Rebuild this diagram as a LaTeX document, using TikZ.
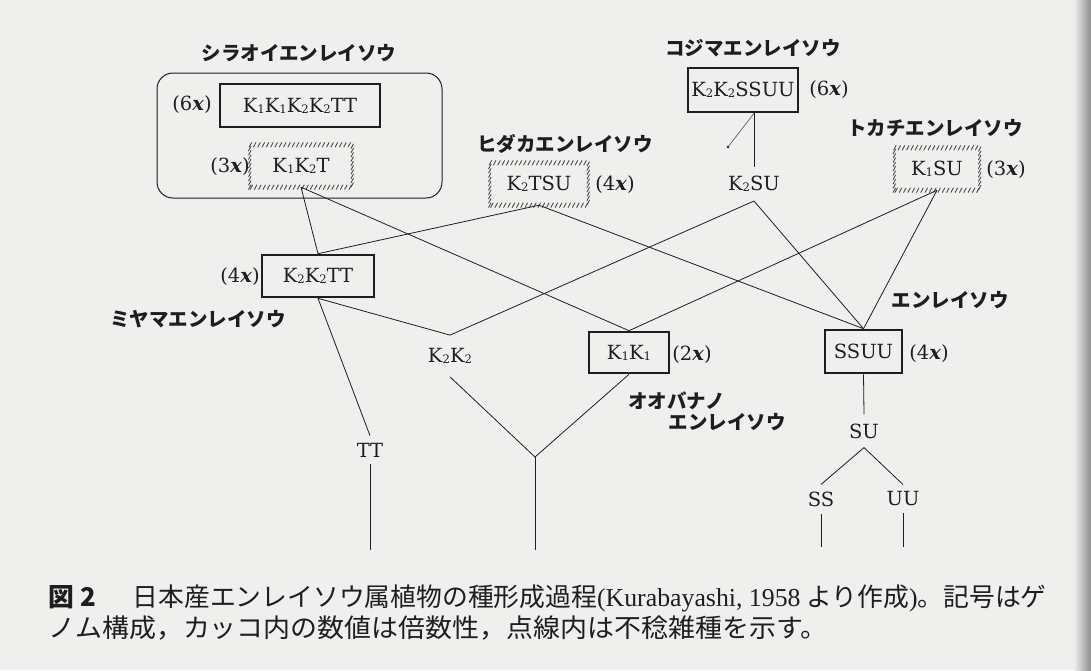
\documentclass[tikz,border=0pt]{standalone}
\usepackage{fontspec}
\usepackage{graphicx}
\setmainfont{DejaVu Serif}
\newfontfamily\jp{Noto Sans CJK JP}
\newfontfamily\capserif{Liberation Serif}
\usetikzlibrary{decorations.markings,calc}
\definecolor{bg}{RGB}{239,239,237}
\definecolor{ink}{RGB}{30,30,30}
\definecolor{hatchc}{RGB}{70,70,70}
\newcommand\gs[1]{\raisebox{-0.06em}{\scalebox{0.6}{#1}}}
\newcommand\px[1]{(#1\textit{\textbf{x}})}
\tikzset{
  gen/.style={font=\fontsize{19.5}{21}\selectfont, text=ink, inner xsep=3pt},
  solidbox/.style={gen, draw=ink, line width=2.6pt},
  hatchedbox/.style={gen},
  hatchframe/.style={decorate, decoration={markings, mark=between positions 0 and 1 step 4.3pt with {\pgftransformresetnontranslations\draw[hatchc, line width=0.85pt] (-1.3pt,-2.4pt) -- (1.3pt,2.4pt);}}},
  ploidy/.style={gen, inner sep=0pt},
  jpname/.style={font=\jp\bfseries\fontsize{19.5}{24}\selectfont, text=ink, inner sep=0pt},
  link/.style={draw=ink, line width=0.8pt},
  groupbox/.style={draw=ink, line width=1pt, rounded corners=16pt},
  caption/.style={font=\jp\fontsize{25.8}{30}\selectfont, text=ink, inner sep=0pt, anchor=base west},
}
\begin{document}
\begin{tikzpicture}[x=1pt,y=-1pt]
\fill[bg] (0,0) rectangle (1091,670);
\useasboundingbox (0,0) rectangle (1091,670);
\shade[left color=bg, right color=black!45] (1074,0) rectangle (1091,670);

% group box
\node[groupbox, minimum width=285pt, minimum height=125pt] (grp) at (299.5,135.5) {};

% genome boxes
\node[solidbox, minimum width=160pt, minimum height=43pt] (hexa) at (300,105.5) {K\gs1K\gs1K\gs2K\gs2TT};
\node[hatchedbox, minimum width=102pt, minimum height=42pt] (tri) at (301,166) {K\gs1K\gs2T};
\node[solidbox, minimum width=110pt, minimum height=44pt] (k2k2ssuu) at (743,90) {K\gs2K\gs2SSUU};
\node[hatchedbox, minimum width=98pt, minimum height=42pt] (k2tsu) at (539,184) {K\gs2TSU};
\node[hatchedbox, minimum width=85pt, minimum height=42pt] (k1su) at (937,169) {K\gs1SU};
\node[solidbox, minimum width=112pt, minimum height=42pt] (k2k2tt) at (318,276) {K\gs2K\gs2TT};
\node[solidbox, minimum width=80pt, minimum height=41pt] (k1k1) at (629,352.5) {K\gs1K\gs1};
\node[solidbox, minimum width=77pt, minimum height=43pt] (ssuu) at (863.5,351.5) {SSUU};

\path[hatchframe] (tri.south west) rectangle (tri.north east);
\path[hatchframe] (k2tsu.south west) rectangle (k2tsu.north east);
\path[hatchframe] (k1su.south west) rectangle (k1su.north east);

% plain genome labels
\node[gen, inner ysep=9pt] (k2su) at (754,184) {K\gs2SU};
\node[gen, inner ysep=13pt] (k2k2) at (450,356) {K\gs2K\gs2};
\node[gen, inner ysep=7pt] (tt) at (370,450) {TT};
\node[gen, inner ysep=9pt] (su) at (864,431) {SU};
\node[gen, inner ysep=7pt] (ss) at (821,499) {SS};
\node[gen, inner ysep=7pt] (uu) at (903,499) {UU};

% ploidy labels
\node[ploidy] (p-hexa) at (192,105) {\px6};
\node[ploidy] (p-tri) at (230,167) {\px3};
\node[ploidy] (p-k2k2ssuu) at (829,90) {\px6};
\node[ploidy] (p-k2tsu) at (615,185) {\px4};
\node[ploidy] (p-k1su) at (1006,170) {\px3};
\node[ploidy] (p-k2k2tt) at (240,277) {\px4};
\node[ploidy] (p-k1k1) at (692,355) {\px2};
\node[ploidy] (p-ssuu) at (929,354) {\px4};

% species names
\node[jpname] (n-shiraoi) at (299,53) {シラオイエンレイソウ};
\node[jpname] (n-kojima) at (753,48) {コジマエンレイソウ};
\node[jpname] (n-hidaka) at (565,144) {ヒダカエンレイソウ};
\node[jpname] (n-tokachi) at (935,128) {トカチエンレイソウ};
\node[jpname] (n-miyama) at (198,319) {ミヤマエンレイソウ};
\node[jpname] (n-enrei) at (950,300) {エンレイソウ};
\node[jpname, align=left, font=\jp\bfseries\fontsize{19.5}{21}\selectfont] (n-oobana) at (707,411) {オオバナノ\\\hspace*{2.1em}エンレイソウ};

% free ends
\coordinate (yj) at (535,457);
\coordinate (ttend) at (370,550);
\coordinate (yjend) at (535,550);
\coordinate (ssend) at (821,547);
\coordinate (uuend) at (903,547);
\coordinate (stem) at (k2su.north |- k2k2ssuu.south);
\coordinate (mark) at (728,147);

% connectors
\draw[link] (tri.south) -- (k2k2tt.north);
\draw[link] (tri.south) -- (k1k1.north);
\draw[link] (k2tsu.south) -- (k2k2tt.north);
\draw[link] (k2tsu.south) -- (ssuu.north);
\draw[link] (stem) -- (k2su.north);
\draw[link] (k2su.south) -- (k2k2.north);
\draw[link] (k2su.south) -- (ssuu.north);
\draw[link] (k1su.south) -- (k1k1.north);
\draw[link] (k1su.south) -- (ssuu.north);
\draw[link] (k2k2tt.south) -- (k2k2.north);
\draw[link] (k2k2tt.south) -- (tt.north);
\draw[link] (tt.south) -- (ttend);
\draw[link] (k2k2.south) -- (yj) -- (k1k1.south);
\draw[link] (yj) -- (yjend);
\draw[link] (ssuu.south) -- (su.north);
\draw[link] (su.south) -- (ss.north);
\draw[link] (su.south) -- (uu.north);
\draw[link] (ss.south) -- (ssend);
\draw[link] (uu.south) -- (uuend);
\draw[ink!70, line width=0.7pt] (stem) -- (mark);
\fill[ink] (mark) circle (1.4pt);

% caption
\node[caption] (cap1) at (48,606) {{\bfseries 図\hspace{7pt}2}\hspace{36pt}日本産エンレイソウ属植物の種形成過程{\capserif(Kurabayashi, 1958} より作成{\capserif)}。記号はゲ};
\node[caption] (cap2) at (48,637) {\scalebox{1.045}[1]{ノム構成，カッコ内の数値は倍数性，点線内は不稔雑種を示す。}};
\end{tikzpicture}
\end{document}
